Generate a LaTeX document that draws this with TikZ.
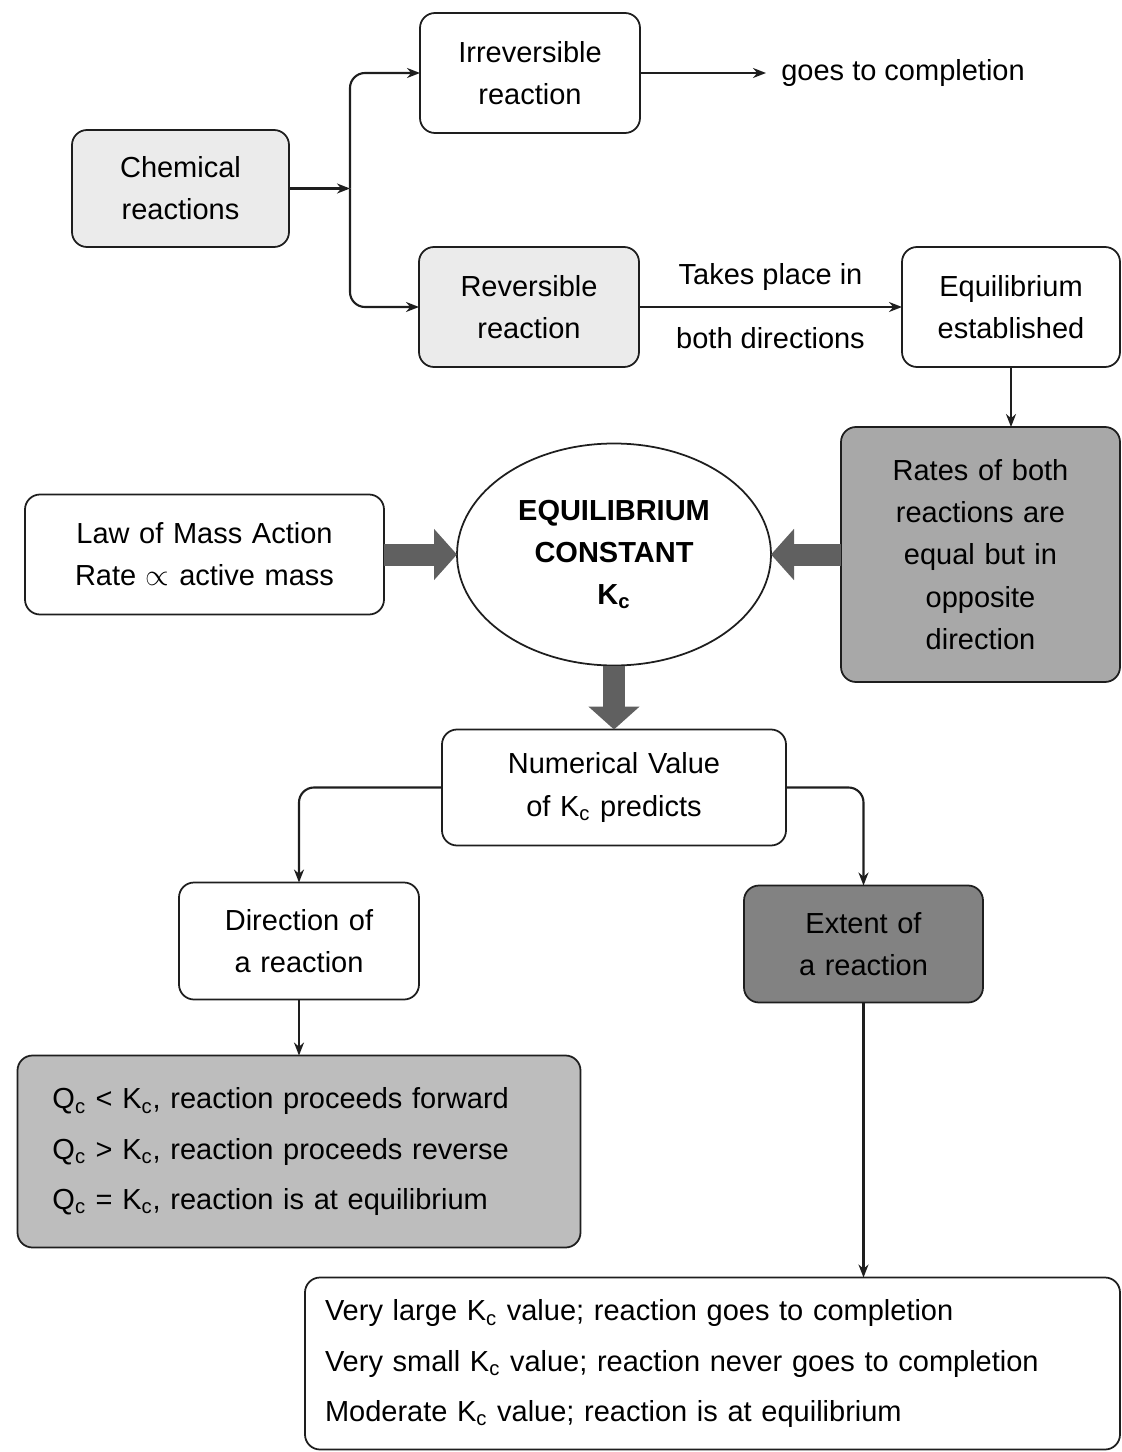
\documentclass[tikz,border=0pt]{standalone}
\usepackage{fontspec}
\setmainfont{Liberation Sans}
\usepackage{tikz}
\usetikzlibrary{arrows.meta,positioning,shapes.geometric}
\definecolor{ink}{HTML}{1E1E1E}
\definecolor{lightgrey}{HTML}{EBEBEB}
\definecolor{midgrey}{HTML}{A8A8A8}
\definecolor{darkgrey}{HTML}{828282}
\definecolor{listgrey}{HTML}{BDBDBD}
\definecolor{blockgrey}{HTML}{606060}
\newcommand{\Kc}{K\textsubscript{c}}
\newcommand{\Qc}{Q\textsubscript{c}}

\begin{document}
\begin{tikzpicture}[
  node distance=10mm and 20mm,
  box/.style={draw=ink,line width=1pt,rounded corners=3mm,fill=white,align=center,inner sep=0pt,outer sep=0pt,minimum height=24mm,text width=44mm,font=\fontsize{16.5}{24}\selectfont},
  listbox/.style={draw=ink,line width=1pt,rounded corners=3mm,fill=white,align=left,inner ysep=0pt,outer sep=0pt,font=\fontsize{16.5}{28.5}\selectfont},
  oval/.style={ellipse,draw=ink,line width=1pt,fill=white,align=center,inner sep=0pt,outer sep=0pt,minimum width=62.8mm,minimum height=44.4mm,font=\fontsize{16.5}{24}\selectfont\bfseries},
  plain/.style={inner sep=3mm,font=\fontsize{16.5}{24}\selectfont},
  tag/.style={inner sep=1mm,font=\fontsize{16.5}{24}\selectfont},
  arr/.style={-{Stealth[length=2.6mm,width=2mm]},line width=1.2pt,draw=ink},
  blk/.style={-{Triangle[length=4.6mm,width=10mm]},line width=4.4mm,draw=blockgrey}
]
\useasboundingbox (-36.1mm,-252.7mm) rectangle (188.3mm,37.7mm);
\node[box,fill=lightgrey,text width=43.4mm,minimum height=23.4mm] (chem) {Chemical\\reactions};
\node[box,above right=-0.6mm and 26.2mm of chem] (irr) {Irreversible\\reaction};
\node[box,fill=lightgrey,below right=0mm and 26mm of chem] (rev) {Reversible\\reaction};
\node[box,right=52.6mm of rev,text width=43.6mm] (equ) {Equilibrium\\established};
\node[plain,right=25.2mm of irr] (done) {goes to completion};
\node[box,fill=midgrey,text width=55.8mm,minimum height=51mm,below=12mm of equ.south east,anchor=north east] (rates) {Rates of both\\reactions are\\equal but in\\opposite\\direction};
\node[oval,left=14mm of rates] (kc) {EQUILIBRIUM\\CONSTANT\\\Kc};
\node[box,left=14.6mm of kc,text width=71.8mm] (law) {Law of Mass Action\\Rate $\propto$ active mass};
\node[box,below=12.8mm of kc,text width=68.8mm,minimum height=23.2mm] (num) {Numerical Value\\of \Kc{} predicts};
\node[box,below left=7.4mm and 4.6mm of num,text width=48mm,minimum height=23.4mm] (dir) {Direction of\\a reaction};
\node[box,fill=darkgrey,below right=8mm and -8.4mm of num,text width=47.8mm,minimum height=23.4mm] (ext) {Extent of\\a reaction};
\node[listbox,fill=listgrey,below=11.2mm of dir,text width=98.6mm,inner xsep=7mm,minimum height=38.4mm] (qbox) {\Qc{} < \Kc, reaction proceeds forward\\\Qc{} > \Kc, reaction proceeds reverse\\\Qc{} = \Kc, reaction is at equilibrium};
\node[listbox,below=55mm of ext,xshift=-30.2mm,text width=155mm,inner xsep=4mm,minimum height=34.4mm] (kbox) {Very large \Kc{} value; reaction goes to completion\\Very small \Kc{} value; reaction never goes to completion\\Moderate \Kc{} value; reaction is at equilibrium};
% thin connectors
\draw[arr] (chem.east) -- ++(12.2mm,0) coordinate (split);
\draw[arr,rounded corners=3mm] (split) |- (irr.west);
\draw[arr,rounded corners=3mm] (split) |- (rev.west);
\draw[arr] (irr) -- (done);
\draw[arr] (rev) -- node[tag,above=2mm] (t1) {Takes place in} node[tag,below=2.9mm] (t2) {both directions} (equ);
\draw[arr] (equ.south) -- (equ.south |- rates.north);
\draw[arr,rounded corners=3mm] (num.west) -| (dir.north);
\draw[arr,rounded corners=3mm] (num.east) -| (ext.north);
\draw[arr] (dir) -- (qbox);
\draw[arr] (ext.south) -- (ext.south |- kbox.north);
% block arrows
\draw[blk] (law.east) -- (law.east -| kc.west);
\draw[blk] (rates.west) -- (kc.east);
\draw[blk] (kc.south) -- (num.north);
\end{tikzpicture}
\end{document}
